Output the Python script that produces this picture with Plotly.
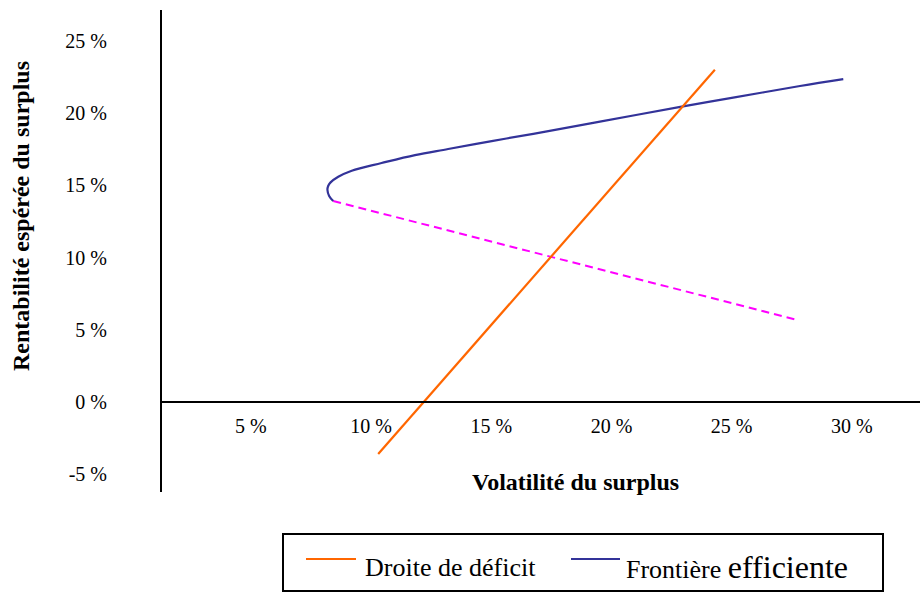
import plotly.graph_objects as go

# Surplus volatility (%) and expected surplus return (%)
deficit_vol = [10.3, 24.3]
deficit_ret = [-3.6, 23.0]

frontier_vol = [8.43, 8.26, 8.19, 8.22, 8.32, 8.64, 9.20, 10.44, 11.83, 13.21, 15.02,
                16.75, 19.52, 22.92, 25.06, 27.84, 29.64]
frontier_ret = [13.91, 14.26, 14.67, 14.95, 15.20, 15.59, 16.01, 16.54, 17.09, 17.51, 18.06,
                18.56, 19.40, 20.44, 21.06, 21.87, 22.35]

lower_vol = [8.43, 27.63]
lower_ret = [13.91, 5.72]

x_ticks = [5, 10, 15, 20, 25, 30]
y_ticks = [-5, 0, 5, 10, 15, 20, 25]

SERIF = "Liberation Serif, Times New Roman, serif"
ORANGE = "#FF6600"
NAVY = "#333399"
MAGENTA = "#FF00FF"

W, H = 920, 592
L, R, T, B = 162, 0, 10, 100
pw, ph = W - L - R, H - T - B


def px(x):
    return (x - L) / pw


def py(y):
    return (H - B - y) / ph


fig = go.Figure()
fig.add_trace(go.Scatter(x=lower_vol, y=lower_ret, mode="lines",
                         line=dict(color=MAGENTA, width=2, dash="8px,5px"),
                         showlegend=False, hoverinfo="skip"))
fig.add_trace(go.Scatter(x=frontier_vol, y=frontier_ret, mode="lines",
                         line=dict(color=NAVY, width=2.2, shape="spline", smoothing=1),
                         name="Frontière efficiente", showlegend=False))
fig.add_trace(go.Scatter(x=deficit_vol, y=deficit_ret, mode="lines",
                         line=dict(color=ORANGE, width=2.2),
                         name="Droite de déficit", showlegend=False))

x_range = [1.31, 32.83]
y_range = [-6.23, 27.13]
zero_pos = (0 - y_range[0]) / (y_range[1] - y_range[0])

fig.update_xaxes(range=x_range, tickvals=x_ticks,
                 ticktext=[f"{v} %" for v in x_ticks],
                 showgrid=False, zeroline=False, showline=True,
                 linecolor="black", linewidth=2,
                 anchor="free", position=zero_pos,
                 ticks="outside", ticklen=6, tickcolor="rgba(0,0,0,0)",
                 tickfont=dict(family=SERIF, size=20, color="black"))
fig.update_yaxes(range=y_range, tickvals=y_ticks,
                 ticktext=[f"{v} %" for v in y_ticks],
                 showgrid=False, zeroline=False, showline=True,
                 linecolor="black", linewidth=2,
                 ticks="outside", ticklen=49, tickcolor="rgba(0,0,0,0)",
                 tickfont=dict(family=SERIF, size=20, color="black"))

annotations = [
    dict(text="<b>Volatilité du surplus</b>", x=px(575), y=py(482),
         xanchor="center", yanchor="middle",
         xref="paper", yref="paper", showarrow=False,
         font=dict(family=SERIF, size=24, color="black")),
    dict(text="<b>Rentabilité espérée du surplus</b>", x=px(21), y=py(216),
         xanchor="center", yanchor="middle",
         xref="paper", yref="paper", showarrow=False, textangle=-90,
         font=dict(family=SERIF, size=24, color="black")),
    dict(text="Droite de déficit", x=px(363), y=py(567),
         xanchor="left", yanchor="middle",
         xref="paper", yref="paper", showarrow=False,
         font=dict(family=SERIF, size=26, color="black")),
    dict(text="Frontière <span style='font-size:32px'>efficiente</span>",
         x=px(624), y=py(567), xanchor="left", yanchor="middle",
         xref="paper", yref="paper", showarrow=False,
         font=dict(family=SERIF, size=26, color="black")),
]

shapes = [
    dict(type="rect", xref="paper", yref="paper",
         x0=px(283), x1=px(883), y0=py(534), y1=py(591),
         line=dict(color="black", width=2), fillcolor="white", layer="below"),
    dict(type="line", xref="paper", yref="paper",
         x0=px(306), x1=px(356), y0=py(559), y1=py(559),
         line=dict(color=ORANGE, width=2)),
    dict(type="line", xref="paper", yref="paper",
         x0=px(571), x1=px(620), y0=py(559), y1=py(559),
         line=dict(color=NAVY, width=2)),
]

fig.update_layout(width=W, height=H, margin=dict(l=L, r=R, t=T, b=B),
                  paper_bgcolor="white", plot_bgcolor="white",
                  annotations=annotations, shapes=shapes, showlegend=False)

fig.write_html("out.html")
